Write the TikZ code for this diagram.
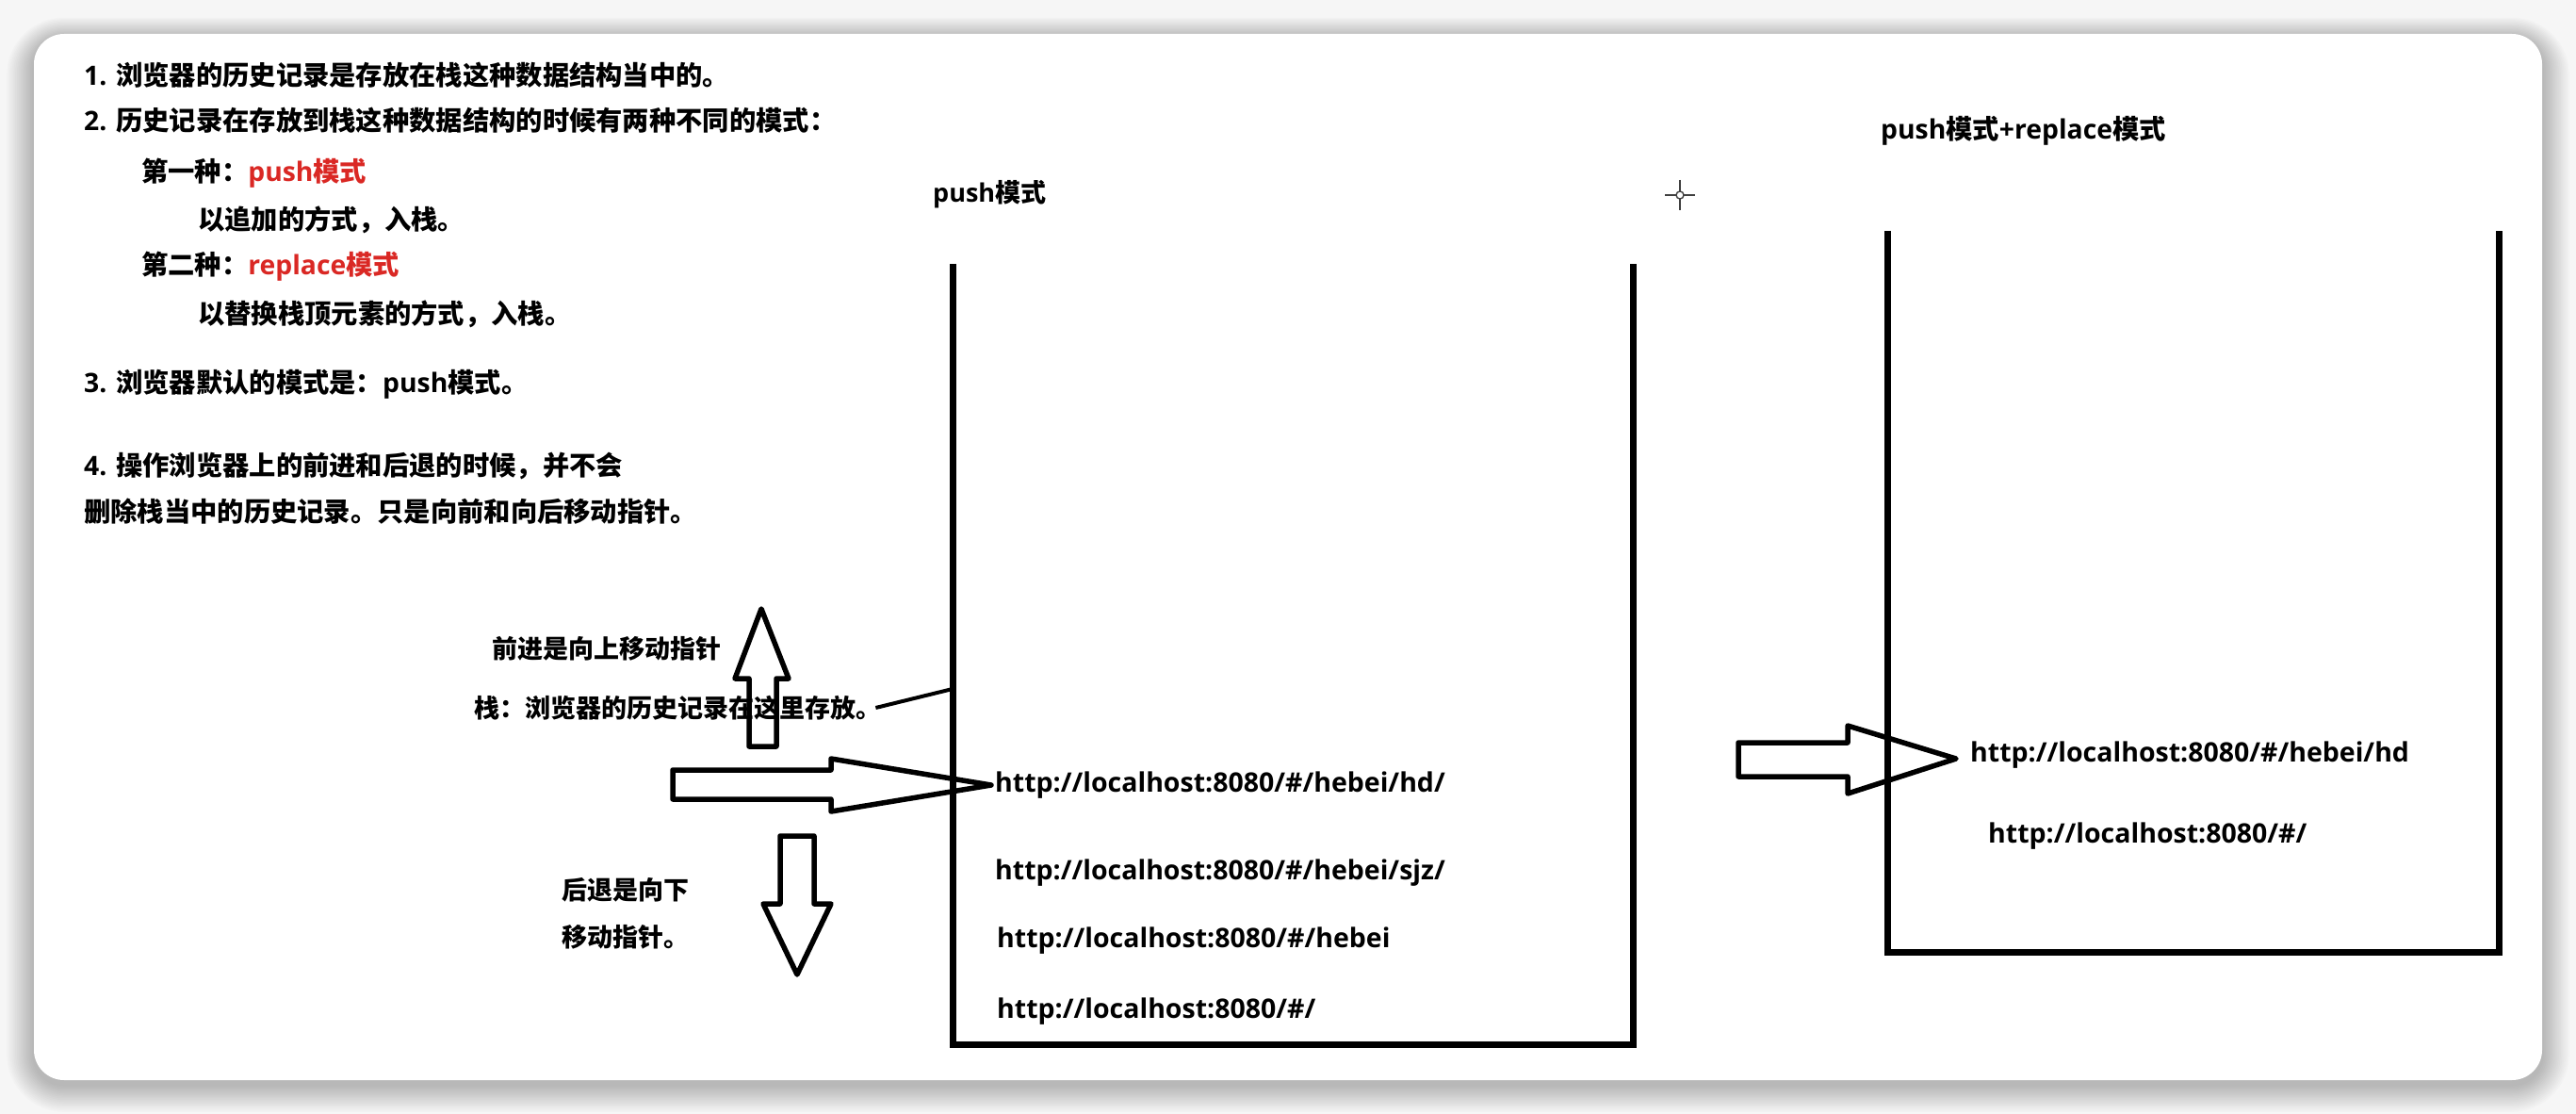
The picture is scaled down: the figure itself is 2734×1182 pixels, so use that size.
\documentclass[tikz,border=0pt]{standalone}
\usepackage{fontspec}
\newfontfamily\cjk{Noto Sans CJK SC}
\newfontfamily\lat{Open Sans}
\definecolor{redtxt}{RGB}{218,40,36}
\definecolor{bgout}{RGB}{246,246,246}
\newcommand{\la}[1]{{\lat\bfseries #1}}
\begin{document}
\begin{tikzpicture}[x=1pt,y=-1pt,
  txt/.style={anchor=west, inner sep=0pt, font=\cjk\bfseries\fontsize{27}{32}\selectfont},
  ltxt/.style={txt, font=\cjk\bfseries\fontsize{28.3}{32}\selectfont},
  url/.style={anchor=west, inner sep=0pt, font=\lat\bfseries\fontsize{28.5}{32}\selectfont},
  wall/.style={line width=7pt, line join=miter},
  blockarrow/.style={line width=5.5pt, line join=round},
  hl/.style={text=redtxt}
]
% background and card
\useasboundingbox (0,0) rectangle (2734,1182);
\fill[bgout] (0,0) rectangle (2734,1182);
\foreach \i in {1,...,16}{
  \pgfmathsetmacro\rr{32+1.8*\i}
  \fill[black, opacity=0.014, rounded corners=\rr pt] (36-1.8*\i, 36-1.4*\i+5) rectangle (2698+1.8*\i, 1146+1.8*\i+5);
}
\fill[white, rounded corners=32pt] (36,36) rectangle (2698,1146);

% left explanatory text
\node[ltxt] (l1) at (89,80) {\la{1. }浏览器的历史记录是存放在栈这种数据结构当中的。};
\node[ltxt] (l2) at (89,128) {\la{2. }历史记录在存放到栈这种数据结构的时候有两种不同的模式：};
\node[ltxt] (m1) at (150,184) {第一种：\textcolor{redtxt}{\la{push}模式}};
\node[ltxt] (m1d) at (210,233) {以追加的方式，入栈。};
\node[ltxt] (m2) at (150,283) {第二种：\textcolor{redtxt}{\la{replace}模式}};
\node[ltxt] (m2d) at (210,333) {以替换栈顶元素的方式，入栈。};
\node[ltxt] (l3) at (89,408) {\la{3. }浏览器默认的模式是：\la{push}模式。};
\node[ltxt] (l4a) at (89,494) {\la{4. }操作浏览器上的前进和后退的时候，并不会};
\node[ltxt] (l4b) at (89,543) {删除栈当中的历史记录。只是向前和向后移动指针。};

% push stack
\node[txt] (pushtitle) at (990,206) {\la{push}模式};
\draw[wall] (1011,280) -- (1011,1108) -- (1733,1108) -- (1733,280);
\coordinate (pushwall) at (1011,731);

\node[url] (u1) at (1056,833) {http://localhost:8080/\#/hebei/hd/};
\node[url] (u2) at (1056,926) {http://localhost:8080/\#/hebei/sjz/};
\node[url] (u3) at (1058,998) {http://localhost:8080/\#/hebei};
\node[url] (u4) at (1058,1073) {http://localhost:8080/\#/};

\node[txt] (fwd) at (522,688) {前进是向上移动指针};
\node[txt] (zhan) at (503,751) {栈：浏览器的历史记录在这里存放。};
\node[txt] (back1) at (596,944) {后退是向下};
\node[txt] (back2) at (596,994) {移动指针。};

\draw[line width=4pt] ([xshift=-6pt]zhan.east) -- (pushwall);

% up arrow
\draw[blockarrow] (808,646) -- (837,720) -- (824,720) -- (824,792) -- (795,792) -- (795,720) -- (780,720) -- cycle;
% down arrow
\draw[blockarrow] (846,1034) -- (882,959) -- (864,959) -- (864,887) -- (828,887) -- (828,959) -- (810,959) -- cycle;
% pointer arrow
\draw[blockarrow] (u1.west) ++(-4,0) coordinate (ptip) -- (882,861) -- (882,848) -- (714,848) -- (714,817) -- (882,817) -- (882,805) -- cycle;

% replace stack
\node[ltxt] (reptitle) at (1996,139) {\la{push}模式\la{+replace}模式};
\draw[wall] (2003,245) -- (2003,1010) -- (2652,1010) -- (2652,245);
\node[url] (r1) at (2091,801) {http://localhost:8080/\#/hebei/hd};
\node[url] (r2) at (2110,887) {http://localhost:8080/\#/};
\draw[blockarrow] (2076,805) -- (1961,842) -- (1961,824) -- (1845,824) -- (1845,788) -- (1961,788) -- (1961,770) -- cycle;

% cursor crosshair
\coordinate (cur) at (1783,207);
\draw[line width=1.6pt, black!75] (1767,207) -- (1779,207) (1787,207) -- (1799,207) (1783,191) -- (1783,203) (1783,211) -- (1783,223);
\draw[line width=1.4pt, black!75] (cur) circle (4pt);
\end{tikzpicture}
\end{document}
